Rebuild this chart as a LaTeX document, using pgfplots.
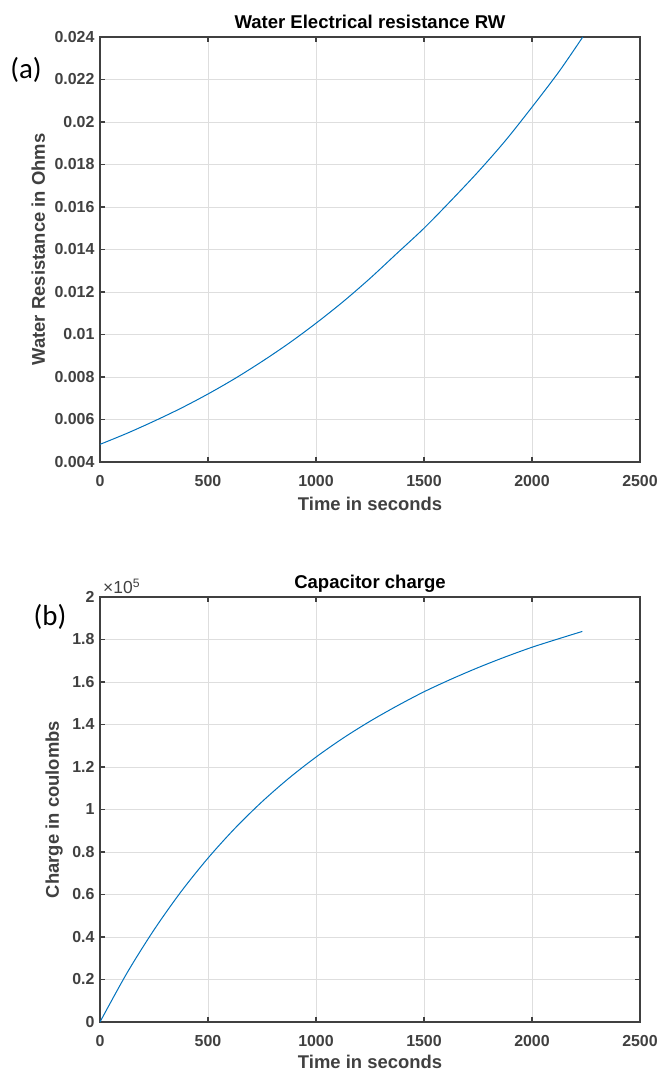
\documentclass[border=0pt]{standalone}
\usepackage{fontspec}
\setmainfont{Liberation Sans}
\newfontfamily\calfont{Carlito}
\usepackage{pgfplots}
\pgfplotsset{compat=1.18}
\definecolor{axgray}{HTML}{404040}
\definecolor{mblue}{HTML}{0072BD}
\pgfplotsset{mystyle/.style={
  scale only axis, width=540bp, height=425bp,
  clip mode=individual,
  xmin=0, xmax=2500, xtick={0,500,...,2500},
  axis line style={axgray, line width=1.8bp},
  tick style={axgray, line width=1.3bp},
  major tick length=5bp, tick align=inside,
  grid=major, major grid style={black!13, line width=0.8bp},
  tick label style={font=\fontsize{16}{16}\selectfont\bfseries, text=axgray},
  label style={font=\fontsize{18.5}{19}\selectfont\bfseries, text=axgray},
  title style={font=\fontsize{18.6}{19}\selectfont\bfseries, text=black,
    at={(axis description cs:0.5,1)}, anchor=base, yshift=3bp},
  /pgf/number format/assume math mode=true,
  scaled ticks=false,
  yticklabel style={/pgf/number format/fixed, /pgf/number format/precision=3, xshift=-2bp},
  xticklabel style={/pgf/number format/fixed, /pgf/number format/1000 sep={}, anchor=base, yshift=-24.5bp},
}}
\pgfplotstableread{
t R
0 0.00483
125 0.00535
250 0.00592
375 0.00653
500 0.00720
625 0.00793
750 0.00873
875 0.00959
1000 0.01053
1125 0.01154
1250 0.01264
1375 0.01382
1500 0.01500
1625 0.01630
1750 0.01765
1875 0.01910
2000 0.02070
2125 0.02237
2235 0.02400
}\resdata
\pgfplotstableread{
t Q
0 0
125 0.2306
250 0.4335
375 0.6130
500 0.7713
625 0.9118
750 1.0365
875 1.1476
1000 1.2467
1125 1.3356
1250 1.4152
1375 1.4873
1500 1.5540
1625 1.6130
1750 1.6675
1875 1.7175
2000 1.7635
2125 1.8040
2233 1.8380
}\chargedata
\begin{document}
\begin{tikzpicture}
\useasboundingbox (-100bp,-50bp) rectangle (558bp,1022bp);
\begin{axis}[mystyle, at={(0bp,560bp)}, anchor=south west,
  ymin=0.004, ymax=0.024, ytick={0.004,0.006,...,0.0241},
  title={Water Electrical resistance RW},
  xlabel={Time in seconds}, ylabel={Water Resistance in Ohms},
  xlabel style={at={(axis description cs:0.5,0)}, anchor=base, yshift=-48.5bp},
  ylabel style={at={(axis description cs:0,0.5)}, anchor=base, yshift=55bp}]
\addplot[mblue, line width=1bp, smooth] table[x=t, y=R] {\resdata};
\node[font=\calfont\fontsize{29}{29}\selectfont, text=black, anchor=center] at (rel axis cs:-0.137,0.922) {(a)};
\end{axis}
\begin{axis}[mystyle, at={(0bp,0bp)}, anchor=south west,
  ymin=0, ymax=2, ytick={0,0.2,...,2.01},
  title={Capacitor charge},
  xlabel={Time in seconds}, ylabel={Charge in coulombs},
  xlabel style={at={(axis description cs:0.5,0)}, anchor=base, yshift=-46bp},
  ylabel style={at={(axis description cs:0,0.5)}, anchor=base, yshift=41bp}]
\addplot[mblue, line width=1bp, smooth] table[x=t, y=Q] {\chargedata};
\node[font=\fontsize{17.5}{17.5}\selectfont, text=axgray, anchor=base west, inner sep=0pt, xshift=3bp, yshift=3bp] at (rel axis cs:0,1) {×10\textsuperscript{5}};
\node[font=\calfont\fontsize{29}{29}\selectfont, text=black, anchor=center] at (rel axis cs:-0.0926,0.954) {(b)};
\end{axis}
\end{tikzpicture}
\end{document}
